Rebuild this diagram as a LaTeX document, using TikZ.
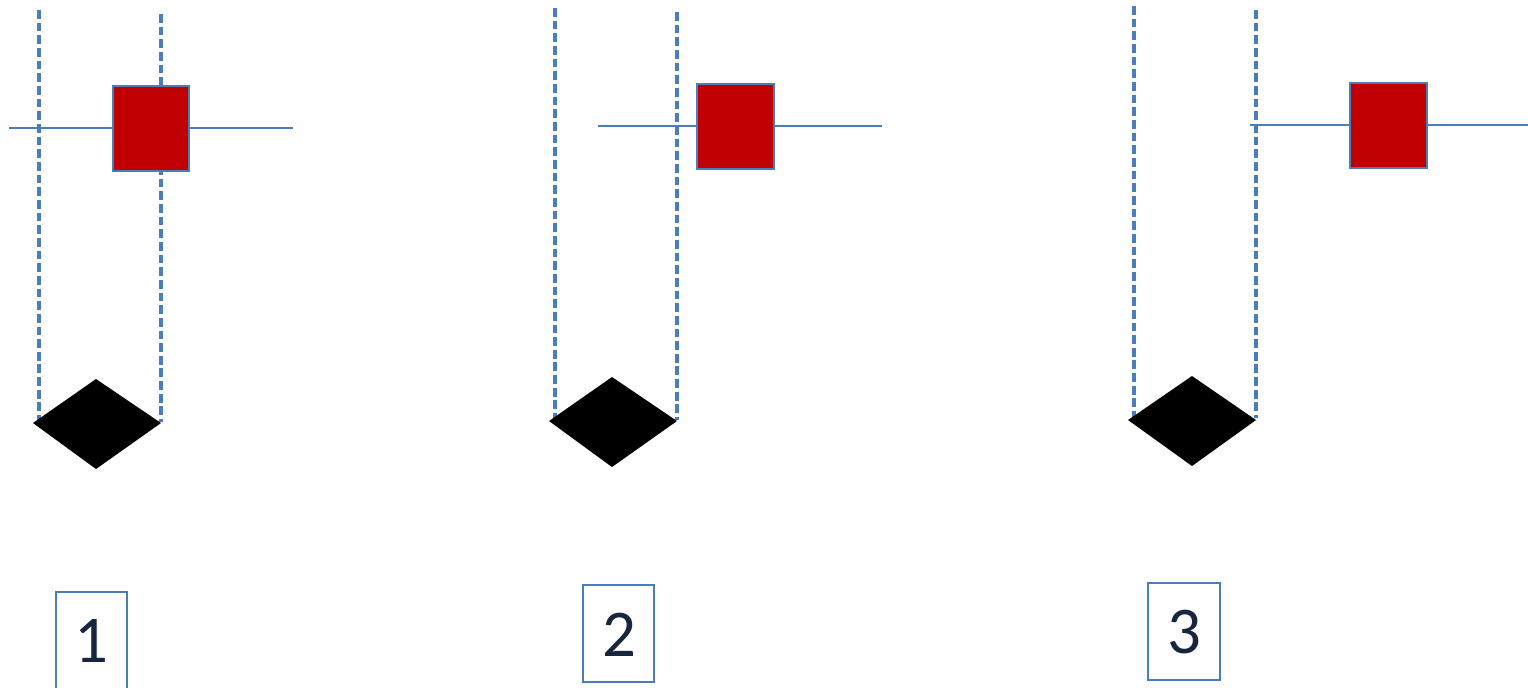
\documentclass[tikz,border=0pt]{standalone}
\usepackage{fontspec}
\setmainfont{Carlito}
\usepackage{tikz}
\definecolor{blue}{RGB}{74,126,187}
\definecolor{red}{RGB}{192,0,0}
\definecolor{navy}{RGB}{23,37,63}
\tikzset{
  guide/.style={blue,line width=1pt,dash pattern=on 2.5pt off 1.1pt},
  track/.style={blue,line width=.5pt},
  block/.style={fill=red,draw=blue,line width=.4pt},
  tag/.style={draw=blue,line width=.5pt},
  num/.style={text=navy,font=\fontsize{19}{22}\selectfont}
}
\begin{document}
\begin{tikzpicture}[x=.01cm,y=-.01cm]
\useasboundingbox (0,0) rectangle (1528,687);
% case 1
\draw[guide] (39,10)--(39,422);
\draw[guide] (161,14)--(161,422);
\draw[track] (9,128)--(293,128);
\draw[block] (113,86) rectangle (189,171);
\fill (33,423)--(96,379)--(161,423)--(96,469)--cycle;
\draw[tag] (56,592) rectangle (127,690);
\node[num] (one) at (91,641){1};
% case 2
\draw[guide] (555,8)--(555,420);
\draw[guide] (677,12)--(677,420);
\draw[track] (598,126)--(882,126);
\draw[block] (697,84) rectangle (774,169);
\fill (549,421)--(612,377)--(677,421)--(612,467)--cycle;
\draw[tag] (583,585) rectangle (654,682);
\node[num] (two) at (619,635){2};
% case 3
\draw[guide] (1134,6)--(1134,418);
\draw[guide] (1256,10)--(1256,418);
\draw[track] (1250,125)--(1528,125);
\draw[block] (1350,83) rectangle (1427,168);
\fill (1128,420)--(1192,376)--(1256,420)--(1192,466)--cycle;
\draw[tag] (1148,583) rectangle (1220,680);
\node[num] (three) at (1184,632){3};
\end{tikzpicture}
\end{document}
